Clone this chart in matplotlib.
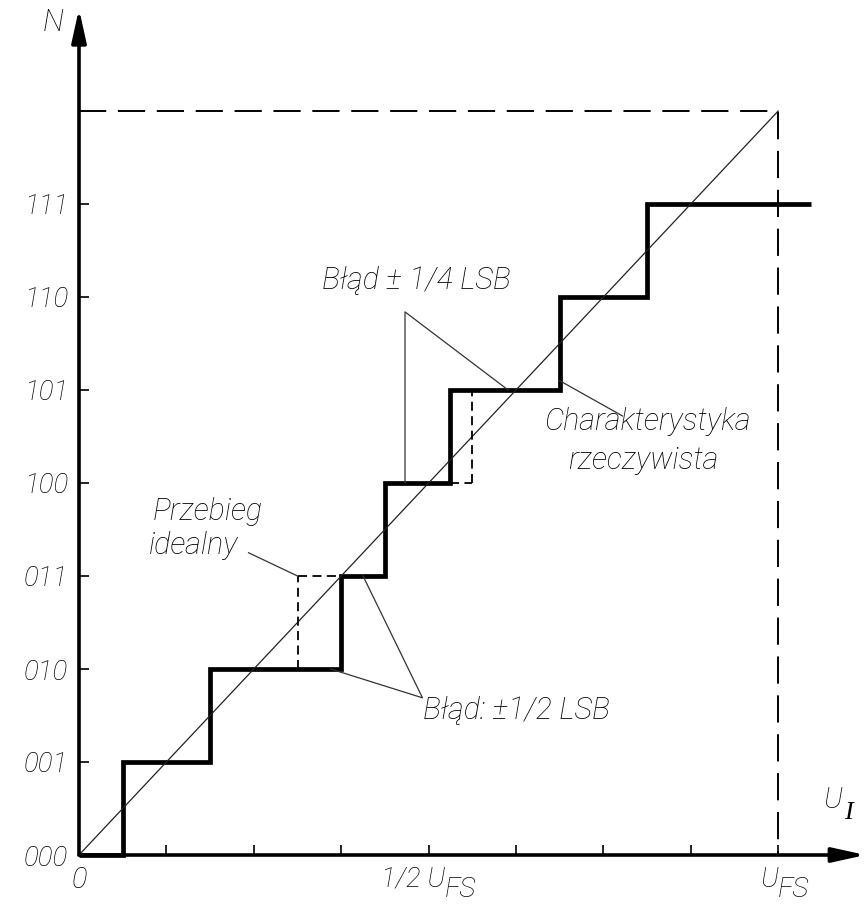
import matplotlib
matplotlib.use('agg')
from matplotlib import pyplot as plt

plt.rcParams.update({
    "font.family": ["Roboto", "DejaVu Sans"],
    "font.style": "italic",
    "font.weight": "light",
})

# real converter: step edges (in LSB of input) and output codes
edges = [0, 0.5, 1.5, 3.0, 3.5, 4.25, 5.5, 6.5, 8.37]
codes = [0, 1, 2, 3, 4, 5, 6, 7]
code_labels = ['000', '001', '010', '011', '100', '101', '110', '111']

# ideal transitions drawn dashed where the real one deviates
ideal_x = [2.5, 4.5]
ideal_lo = [2, 4]
ideal_real_x = [3.0, 4.25]

full_scale = 8
x_ticks = list(range(0, 9))
x_labels = ['0', '', '', '', '', '', '', '', '']
fs_pos = [4.19, 8.0]
fs_base = ['1/2 U', 'U']

W, H = 868, 907
ox, oy = 79, 52          # origin in pixels (from bottom-left)
ux, uy = 87.4, 93.0      # pixels per unit

fig = plt.figure(figsize=(W / 100, H / 100), dpi=100)
ax = fig.add_axes([0, 0, 1, 1])
ax.set_xlim(-ox / ux, (W - ox) / ux)
ax.set_ylim(-oy / uy, (H - oy) / uy)

for s in ax.spines.values():
    s.set_visible(False)
ax.spines['left'].set_position(('data', 0))
ax.spines['bottom'].set_position(('data', 0))

ax.set_yticks(codes)
ax.set_yticklabels(code_labels, fontsize=20)
ax.set_xticks(x_ticks)
ax.set_xticklabels(x_labels, fontsize=21)
ax.tick_params(direction='in', length=7, width=1.2)
ax.tick_params(axis='y', pad=8)
ax.tick_params(axis='x', pad=8)

# U_FS labels with full-size, lowered subscript
for xp, base in zip(fs_pos, fs_base):
    ax.text(xp, -0.26, base, fontsize=20, ha='right', va='center')
    ax.text(xp, -0.37, 'FS', fontsize=20, ha='left', va='center')

# axes with arrows
arrow = dict(arrowstyle='-|>,head_length=1.0,head_width=0.22', lw=2.6,
             color='k', shrinkA=0, shrinkB=0, mutation_scale=20)
ax.annotate('', xy=(0, 9.1), xytext=(0, 0), arrowprops=arrow)
ax.annotate('', xy=(9.0, 0), xytext=(0, 0), arrowprops=arrow)
ax.text(-0.30, 8.95, 'N', fontsize=22, ha='center', va='center')
ax.text(8.62, 0.59, 'U', fontsize=21, ha='center', va='center')
ax.text(8.80, 0.45, 'I', fontsize=19, ha='center', va='center',
        family='Liberation Serif')

# full-scale dashed frame
ax.plot([0, full_scale, full_scale], [full_scale, full_scale, 0],
        color='k', lw=1.4, linestyle=(0, (14, 6)))

# ideal straight line
ax.plot([0, full_scale], [0, full_scale], color='#222222', lw=0.9)

# real characteristic
ax.stairs(codes, edges, baseline=None, color='k', lw=3.4)

# ideal transitions (dashed)
for xi, lo, xr in zip(ideal_x, ideal_lo, ideal_real_x):
    ax.plot([xi, xi], [lo, lo + 1], color='k', lw=1.3, linestyle=(0, (5, 3)))
    if xi < xr:
        ax.plot([xi, xr], [lo + 1, lo + 1], color='k', lw=1.3, linestyle=(0, (5, 3)))
    else:
        ax.plot([xr, xi], [lo, lo], color='k', lw=1.3, linestyle=(0, (5, 3)))

# annotations
lead = dict(color='#333333', lw=0.9)
ax.text(0.84, 3.69, 'Przebieg', fontsize=22, ha='left', va='center')
ax.text(0.80, 3.33, 'idealny', fontsize=22, ha='left', va='center')
ax.plot([1.94, 2.5], [3.25, 3.0], **lead)

ax.text(3.94, 1.55, 'Błąd: ±1/2 LSB', fontsize=22, ha='left', va='center')
ax.plot([2.88, 3.93, 3.25], [2.0, 1.69, 3.0], **lead)

ax.text(2.78, 6.18, 'Błąd ± 1/4 LSB', fontsize=22, ha='left', va='center')
ax.plot([3.73, 3.73, 4.91], [4.0, 5.84, 5.0], **lead)

ax.text(6.50, 4.66, 'Charakterystyka', fontsize=22, ha='center', va='center')
ax.text(6.46, 4.24, 'rzeczywista', fontsize=22, ha='center', va='center')
ax.plot([6.22, 5.5], [4.72, 5.1], **lead)

fig.savefig('out.png', dpi=100, facecolor='white')
